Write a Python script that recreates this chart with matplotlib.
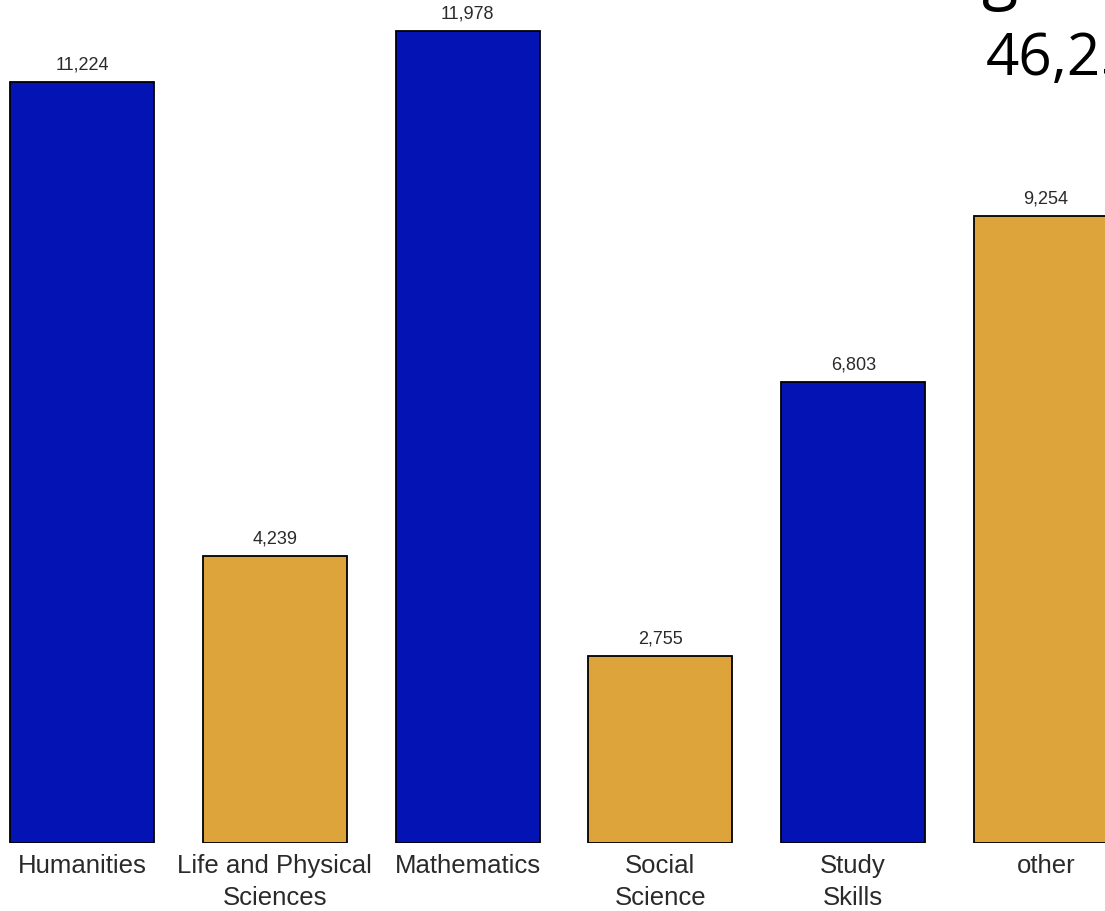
import numpy as np
import matplotlib
matplotlib.use("Agg")
import matplotlib.pyplot as plt

categories = ["Humanities", "Life and Physical\nSciences", "Mathematics",
              "Social\nScience", "Study\nSkills", "other"]
counts = [11224, 4239, 11978, 2755, 6803, 9254]
bar_colors = ["#0414B4", "#DDA43B", "#0414B4", "#DDA43B", "#0414B4", "#DDA43B"]
total_label = "46,253"

W, H = 1105, 911
fig = plt.figure(figsize=(W / 100, H / 100), dpi=100)

# axes: baseline at y=843 px, bar centres every ~192.8 px starting at 82 px
base_px = 843
px_per_unit = (843 - 82) / counts[0]
step = 192.8
ax = fig.add_axes([0, (H - base_px) / H, 1, base_px / H])
x = np.arange(len(categories))
ax.bar(x, counts, width=144 / step, color=bar_colors, edgecolor="black", linewidth=1.3)
ax.set_xlim(-82 / step, (W - 82) / step)
ax.set_ylim(0, base_px / px_per_unit)

for xi, v in zip(x, counts):
    ax.annotate(f"{v:,}", (xi, v), xytext=(0, 6), textcoords="offset points",
                ha="center", va="bottom", fontsize=13, color="#2a2a2a",
                family="Liberation Sans")

ax.set_xticks(x)
ax.set_xticklabels(categories, fontsize=18.5, color="#2a2a2a", family="Liberation Sans",
                   linespacing=1.4)
ax.tick_params(axis="x", length=0, pad=8)
ax.set_yticks([])
for s in ax.spines.values():
    s.set_visible(False)
ax.patch.set_alpha(0)

# slide title pieces cut off at the top right
fig.text(986 / W, 1 - 75 / H, total_label, fontsize=42, family="Open Sans",
         color="black", ha="left", va="baseline")
fig.text(982 / W, 1 + 4 / H, "g", fontsize=48, family="Open Sans",
         color="black", ha="left", va="baseline")

fig.savefig("out.png", dpi=100)
